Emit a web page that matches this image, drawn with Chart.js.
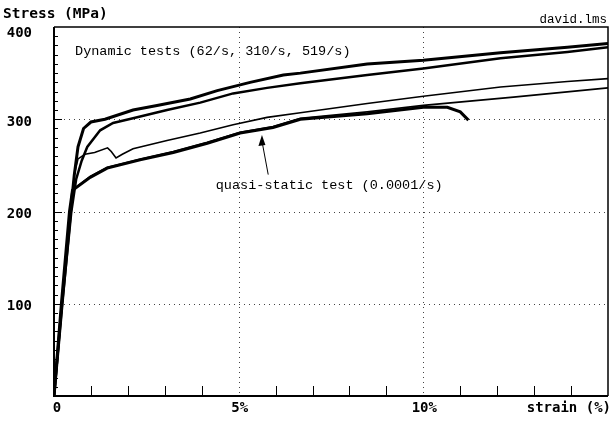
<!DOCTYPE html>
<html>
<head>
<meta charset="utf-8">
<script src="https://cdn.jsdelivr.net/npm/chart.js@4.4.1/dist/chart.umd.min.js"></script>
<style>
  html, body { margin: 0; padding: 0; background: #fff; }
  canvas { display: block; }
</style>
</head>
<body>
<canvas id="stressChart" width="616" height="421"></canvas>
<script>
// strain (%) / stress (MPa)
const strainTop = [0, 0.22, 0.45, 0.55, 0.65, 0.8, 1.0, 1.38, 2.14, 2.79, 3.69, 4.42, 5.31, 6.21, 6.67, 8.48, 10, 12.09, 13.9, 15];
const stressTop = [0, 100, 200, 240, 270, 290, 297, 300, 310, 315, 322, 331, 340, 348, 350, 360, 364, 372, 378, 382];

const strainMid = [0, 0.22, 0.47, 0.6, 0.75, 0.9, 1.25, 1.6, 2.14, 3.06, 3.96, 4.85, 5.77, 6.67, 8.48, 10, 12.09, 13.9, 15];
const stressMid = [0, 100, 200, 235, 255, 270, 288, 296, 301, 310, 318, 328, 334, 339, 348, 355, 366, 373, 378];

const strainDip = [0, 0.22, 0.45, 0.55, 0.65, 0.84, 1.1, 1.45, 1.55, 1.68, 1.85, 2.14, 3.06, 3.96, 4.85, 5.77, 6.67, 8.48, 10, 12.09, 13.9, 15];
const stressDip = [0, 100, 200, 240, 257, 262, 264, 269, 265, 258, 262, 268, 277, 285, 294, 302, 307, 317, 325, 335, 341, 344];

const strainLow = [0, 0.22, 0.44, 0.52, 0.98, 1.44, 2.33, 3.23, 4.15, 5.04, 5.93, 6.67, 8.48, 10, 12.44, 15];
const stressLow = [0, 100, 200, 224, 238, 248, 257, 265, 275, 286, 292, 301, 308, 315, 324, 334];

const strainQuasi = [0, 0.2, 0.42, 0.5, 0.98, 1.44, 2.33, 3.23, 4.15, 5.04, 5.93, 6.67, 8.48, 10, 10.65, 11.0, 11.22];
const stressQuasi = [0, 100, 200, 223, 237, 247, 256, 264, 274, 285, 291, 300, 306, 313, 313, 308, 299];

const yTicks = [100, 200, 300, 400];
const yTickLabels = ["100", "200", "300", "400"];
const xTicks = [0, 5, 10];
const xTickLabels = ["0", "5%", "10%"];
const xGrid = [5, 10];
const yGrid = [100, 200, 300];

const toPoints = (xs, ys) => xs.map((x, i) => ({ x, y: ys[i] }));

const series = [
    { data: toPoints(strainTop, stressTop), width: 3 },
    { data: toPoints(strainMid, stressMid), width: 2.5 },
    { data: toPoints(strainDip, stressDip), width: 1.6 },
    { data: toPoints(strainLow, stressLow), width: 1.6 },
    { data: toPoints(strainQuasi, stressQuasi), width: 3 }
];

const labelFont = 'bold 14px "DejaVu Sans Mono", monospace';
const noteFont = '13.5px "Liberation Mono", monospace';

const plotDecor = {
    id: "plotDecor",
    beforeDatasetsDraw(chart) {
        const { ctx, chartArea: a, scales: { x, y } } = chart;
        ctx.save();
        ctx.strokeStyle = "#444";
        ctx.lineWidth = 1;
        ctx.setLineDash([1, 4]);
        yGrid.forEach(v => {
            const py = Math.round(y.getPixelForValue(v)) + 0.5;
            ctx.beginPath();
            ctx.moveTo(a.left, py);
            ctx.lineTo(a.right, py);
            ctx.stroke();
        });
        xGrid.forEach(v => {
            const px = Math.round(x.getPixelForValue(v)) + 0.5;
            ctx.beginPath();
            ctx.moveTo(px, a.top);
            ctx.lineTo(px, a.bottom);
            ctx.stroke();
        });
        ctx.restore();
    },
    afterDatasetsDraw(chart) {
        const { ctx, chartArea: a, scales: { x, y } } = chart;
        ctx.save();
        ctx.setLineDash([]);
        ctx.strokeStyle = "#000";

        // frame
        ctx.lineWidth = 2;
        ctx.beginPath();
        ctx.moveTo(a.left, a.top);
        ctx.lineTo(a.left, a.bottom);
        ctx.lineTo(a.right, a.bottom);
        ctx.stroke();
        ctx.lineWidth = 1.5;
        ctx.beginPath();
        ctx.moveTo(a.left, a.top);
        ctx.lineTo(a.right, a.top);
        ctx.lineTo(a.right, a.bottom);
        ctx.stroke();

        // minor ticks, left axis every 10 MPa
        ctx.lineWidth = 1;
        for (let v = 10; v < 400; v += 10) {
            const py = Math.round(y.getPixelForValue(v)) + 0.5;
            ctx.beginPath();
            ctx.moveTo(a.left, py);
            ctx.lineTo(a.left + (v % 100 === 0 ? 8 : 4), py);
            ctx.stroke();
        }
        // minor ticks, bottom axis every 1 %
        for (let v = 1; v < 15; v++) {
            if (xGrid.includes(v)) continue;
            const px = Math.round(x.getPixelForValue(v)) + 0.5;
            ctx.beginPath();
            ctx.moveTo(px, a.bottom);
            ctx.lineTo(px, a.bottom - 10);
            ctx.stroke();
        }

        // tick labels
        ctx.fillStyle = "#000";
        ctx.font = labelFont;
        ctx.textAlign = "right";
        ctx.textBaseline = "middle";
        yTicks.forEach((v, i) => {
            const py = Math.max(y.getPixelForValue(v) + 3, a.top + 6);
            ctx.fillText(yTickLabels[i], 32, py);
        });
        ctx.textAlign = "center";
        xTicks.forEach((v, i) => {
            const px = x.getPixelForValue(v) + (v === 0 ? 3 : 1);
            ctx.fillText(xTickLabels[i], px, a.bottom + 12);
        });
        ctx.textAlign = "right";
        ctx.fillText("strain (%)", 611, a.bottom + 12);

        ctx.textAlign = "left";
        ctx.font = 'bold 14.5px "DejaVu Sans Mono", monospace';
        ctx.fillText("Stress (MPa)", 3, 14);

        // notes
        ctx.font = noteFont;
        ctx.textAlign = "left";
        ctx.fillText("Dynamic tests (62/s, 310/s, 519/s)", x.getPixelForValue(0.57), y.getPixelForValue(374));
        ctx.fillText("quasi-static test (0.0001/s)", x.getPixelForValue(4.38), y.getPixelForValue(228));
        ctx.font = '12.5px "Liberation Mono", monospace';
        ctx.textAlign = "right";
        ctx.fillText("david.lms", 607, 20);

        // arrow to the quasi-static curve
        const tipX = x.getPixelForValue(5.63), tipY = y.getPixelForValue(283);
        const tailX = x.getPixelForValue(5.8), tailY = y.getPixelForValue(240);
        ctx.lineWidth = 1;
        ctx.beginPath();
        ctx.moveTo(tailX, tailY);
        ctx.lineTo(tipX, tipY + 6);
        ctx.stroke();
        ctx.beginPath();
        ctx.moveTo(tipX, tipY);
        ctx.lineTo(tipX - 3.5, tipY + 11);
        ctx.lineTo(tipX + 3.5, tipY + 10);
        ctx.closePath();
        ctx.fill();

        ctx.restore();
    }
};

new Chart(document.getElementById("stressChart"), {
    type: "scatter",
    data: {
        datasets: series.map(s => ({
            data: s.data,
            showLine: true,
            borderColor: "#000",
            borderWidth: s.width,
            pointRadius: 0,
            tension: 0
        }))
    },
    options: {
        responsive: false,
        animation: false,
        devicePixelRatio: 1,
        layout: { padding: { left: 54, top: 27, right: 8, bottom: 25 } },
        scales: {
            x: { type: "linear", min: 0, max: 15, display: false },
            y: { type: "linear", min: 0, max: 400, display: false }
        },
        plugins: { legend: { display: false }, tooltip: { enabled: false } }
    },
    plugins: [plotDecor]
});
</script>
</body>
</html>
